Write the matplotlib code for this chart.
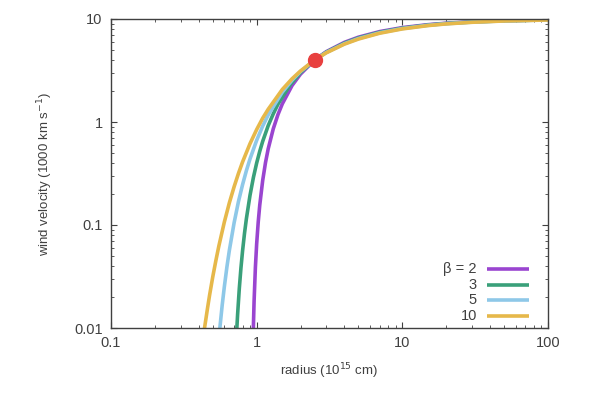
import numpy as np
import matplotlib.pyplot as plt

plt.rcParams['font.family'] = ['Liberation Sans', 'DejaVu Sans']
plt.rcParams['axes.unicode_minus'] = False

# radius (10^15 cm) / wind velocity (1000 km/s)
r_b2 = [0.948, 0.95, 0.96, 0.98, 1.0, 1.025, 1.05, 1.1, 1.15, 1.2, 1.3, 1.4, 1.5, 1.75, 2.0, 2.5, 3, 4, 5, 7, 10, 15, 20, 30, 50, 100]
v_b2 = [0.00936, 0.0106, 0.0182, 0.0387, 0.0656, 0.107, 0.156, 0.271, 0.404, 0.549, 0.859, 1.18, 1.50, 2.26, 2.92, 4.00, 4.81, 5.93, 6.66, 7.55, 8.25, 8.81, 9.10, 9.40, 9.64, 9.82]

r_b3 = [0.72, 0.73, 0.74, 0.76, 0.78, 0.8, 0.825, 0.85, 0.9, 0.95, 1.0, 1.05, 1.1, 1.2, 1.3, 1.4, 1.7, 2.0, 2.5, 3, 4, 5, 7, 10, 15, 20, 30, 50, 100]
v_b3 = [0.00638, 0.00959, 0.0136, 0.0242, 0.0383, 0.0559, 0.0829, 0.115, 0.194, 0.290, 0.400, 0.520, 0.649, 0.922, 1.20, 1.49, 2.30, 3.02, 4.00, 4.76, 5.83, 6.55, 7.44, 8.15, 8.74, 9.05, 9.36, 9.61, 9.80]

r_b5 = [0.55, 0.56, 0.58, 0.6, 0.625, 0.65, 0.7, 0.75, 0.8, 0.85, 0.9, 1.0, 1.1, 1.2, 1.5, 1.75, 2.0, 2.5, 3, 4, 5, 7, 10, 15, 20, 30, 50, 100]
v_b5 = [0.00778, 0.0103, 0.0167, 0.0252, 0.0393, 0.0572, 0.105, 0.169, 0.246, 0.337, 0.438, 0.664, 0.913, 1.17, 1.95, 2.55, 3.09, 4.00, 4.72, 5.75, 6.46, 7.35, 8.08, 8.68, 9.00, 9.32, 9.59, 9.79]

r_b10 = [0.43, 0.44, 0.46, 0.475, 0.5, 0.525, 0.55, 0.6, 0.65, 0.7, 0.75, 0.8, 0.9, 1.0, 1.1, 1.2, 1.5, 1.75, 2.0, 2.5, 3, 4, 5, 7, 10, 15, 20, 30, 50, 100]
v_b10 = [0.00812, 0.0103, 0.0156, 0.0208, 0.0316, 0.0453, 0.0625, 0.107, 0.165, 0.235, 0.317, 0.409, 0.616, 0.845, 1.09, 1.33, 2.07, 2.63, 3.13, 4.00, 4.69, 5.70, 6.39, 7.28, 8.01, 8.63, 8.96, 9.29, 9.57, 9.78]

labels = ['β = 2', '3', '5', '10']
colors = ['#9a45d0', '#3aa07a', '#8ec8e8', '#e6b84a']

pt_r, pt_v = 2.5, 4.0   # marked point

fig = plt.figure(figsize=(6.05, 3.93), dpi=100)
ax = fig.add_axes([111/605, 1-328/393, 437/605, 309/393])

curves = [(r_b2, v_b2), (r_b3, v_b3), (r_b5, v_b5), (r_b10, v_b10)]
for (r, v), c in zip(curves, colors):
    ax.plot(r, v, color=c, lw=2.6, solid_capstyle='butt')

ax.plot([pt_r], [pt_v], 'o', color='#e8403f', ms=10, zorder=5)

ax.set_xscale('log')
ax.set_yscale('log')
ax.set_xlim(0.1, 100)
ax.set_ylim(0.01, 10)

gray = '#404040'
for s in ax.spines.values():
    s.set_color(gray)
    s.set_linewidth(1)
ax.tick_params(which='both', direction='in', top=True, right=True, color=gray,
               labelcolor=gray, labelsize=10.5)
ax.tick_params(which='major', length=4.5, width=0.8, pad=6)
ax.tick_params(which='minor', length=2.5, width=0.6)
ax.set_xticks([0.1, 1, 10, 100])
ax.set_xticklabels(['0.1', '1', '10', '100'])
ax.set_yticks([0.01, 0.1, 1, 10])
ax.set_yticklabels(['0.01', '0.1', '1', '10'])

ax.set_xlabel('radius (10$^{15}$ cm)', color=gray, fontsize=9.5, labelpad=8)
ax.set_ylabel('wind velocity (1000 km s$^{-1}$)', color=gray, fontsize=9.5, labelpad=14)

# legend, gnuplot style (text right aligned, sample on the right)
ys = [0.191, 0.139, 0.091, 0.039]
for lab, c, y in zip(labels, colors, ys):
    ax.text(0.8375, y, lab, transform=ax.transAxes, ha='right', va='center',
            color=gray, fontsize=10.5)
    ax.plot([0.860, 0.957], [y, y], transform=ax.transAxes, color=c, lw=2.6,
            solid_capstyle='butt')

fig.savefig('out.png', dpi=100)
